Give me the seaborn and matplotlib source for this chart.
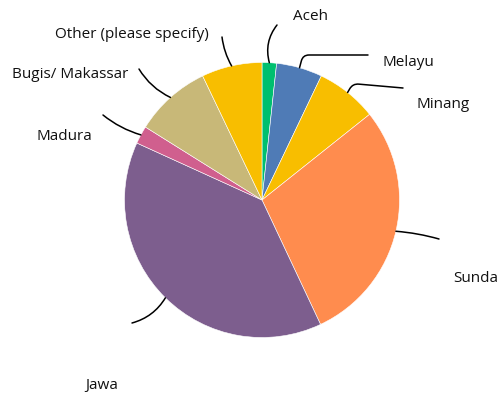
import numpy as np
import matplotlib
matplotlib.use("Agg")
import matplotlib.pyplot as plt
import seaborn as sns

# ethnic groups, clockwise from the top
labels = ["Aceh", "Melayu", "Minang", "Sunda", "Jawa", "Madura",
          "Bugis/ Makassar", "Other (please specify)"]
shares = [1.7, 5.4, 7.2, 28.7, 38.8, 2.1, 9.0, 7.1]
colors = ["#00BF6F", "#4F7BB6", "#F8BE00", "#FF8C4E", "#7D5E8E",
          "#D05F8E", "#C8B878", "#F8BE00"]

sns.set_style("white")
plt.rcParams["font.family"] = ["Open Sans", "DejaVu Sans"]

W, H = 500, 396
fig = plt.figure(figsize=(5.0, 3.96), dpi=100)
ax = fig.add_axes([0, 0, 1, 1])

cx, cy, r = 262, H - 200, 137.5
wedges, _ = ax.pie(shares, colors=colors, startangle=90, counterclock=False,
                   center=(cx, cy), radius=r, frame=True,
                   wedgeprops=dict(edgecolor="white", linewidth=0.4))
ax.set_xlim(0, W)
ax.set_ylim(0, H)
ax.axis("off")

# label placement (pixels from top-left): text left/centre, leader end, style
layout = [
    ((293, 17), (277, 25), "arc3,rad=0.25"),
    ((383, 63), (368, 55), "angle,angleA=0,angleB=75,rad=6"),
    ((417, 104), (403, 88), "angle,angleA=-5,angleB=60,rad=6"),
    ((453, 278), (439, 239), "arc3,rad=0.05"),
    ((85, 386), (132, 323), "arc3,rad=0.2"),
    ((37, 137), (103, 115), "arc3,rad=0.1"),
    ((12, 74), (139, 69), "arc3,rad=0.15"),
    ((55, 35), (222, 37), "arc3,rad=0.1"),
]

for w, lab, (tpos, lend, style) in zip(wedges, labels, layout):
    mid = np.deg2rad((w.theta1 + w.theta2) / 2)
    rim = (cx + r * np.cos(mid), cy + r * np.sin(mid))
    ax.annotate("", xy=rim, xytext=(lend[0], H - lend[1]),
                arrowprops=dict(arrowstyle="-", color="black", lw=1.1,
                                connectionstyle=style, shrinkA=0, shrinkB=0))
    ax.text(tpos[0], H - tpos[1], lab, fontsize=11, color="#111111",
            ha="left", va="center")

fig.savefig("out.png", dpi=100)
